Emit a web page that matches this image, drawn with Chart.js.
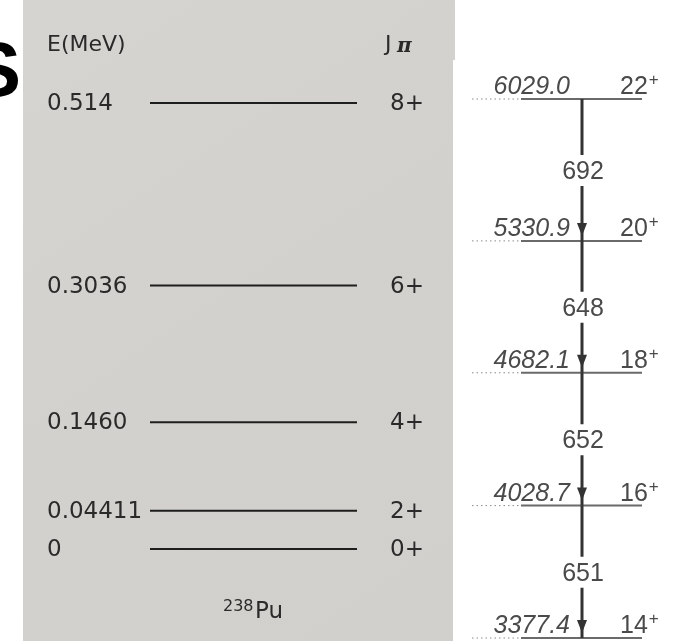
<!DOCTYPE html>
<html>
<head>
<meta charset="utf-8">
<script src="https://cdn.jsdelivr.net/npm/chart.js@4.4.0/dist/chart.umd.min.js"></script>
<style>
  html, body { margin: 0; padding: 0; background: #fff; }
  #wrap { width: 682px; height: 641px; position: relative; }
</style>
</head>
<body>
<div id="wrap"><canvas id="levels"></canvas></div>
<script>
// 238Pu ground band (MeV)
const puEnergies = [0, 0.04411, 0.1460, 0.3036, 0.514];
const puEnergyLabels = ['0', '0.04411', '0.1460', '0.3036', '0.514'];
const puSpins = ['0+', '2+', '4+', '6+', '8+'];

// yrast band (keV)
const bandEnergies = [3377.4, 4028.7, 4682.1, 5330.9, 6029.0];
const bandEnergyLabels = ['3377.4', '4028.7', '4682.1', '5330.9', '6029.0'];
const bandSpins = ['14', '16', '18', '20', '22'];
// gamma between level i+1 and level i
const gammaEnergies = [651, 652, 648, 692];

// 水平位置 (canvas px)
const LEFT_X = [150, 357];
const RIGHT_X = [472, 521, 642];
const ARROW_X = 582;

const datasets = [];
puEnergies.forEach((e, i) => {
    datasets.push({
        label: 'pu' + i,
        yAxisID: 'yL',
        data: [{ x: LEFT_X[0], y: e }, { x: LEFT_X[1], y: e }],
        borderColor: '#1e1e1e',
        borderWidth: 2,
        pointRadius: 0
    });
});
bandEnergies.forEach((e, i) => {
    datasets.push({
        label: 'band' + i,
        yAxisID: 'yR',
        data: RIGHT_X.map(x => ({ x: x, y: e })),
        borderColor: '#666',
        borderWidth: 2,
        pointRadius: 0,
        segment: {
            borderDash: ctx => ctx.p0DataIndex === 0 ? [1.5, 3] : undefined,
            borderWidth: ctx => ctx.p0DataIndex === 0 ? 1 : 2,
            borderColor: ctx => ctx.p0DataIndex === 0 ? '#8a8a8a' : '#6a6a6a'
        }
    });
});

function supText(ctx, base, sup, x, y, supSize, rise) {
    ctx.textAlign = 'left';
    ctx.fillText(base, x, y);
    const w = ctx.measureText(base).width;
    const f = ctx.font;
    ctx.font = f.replace(/\d+px/, supSize + 'px');
    ctx.fillText(sup, x + w + 1, y - rise);
    ctx.font = f;
}

const diagramPlugin = {
    id: 'diagram',
    beforeDraw(chart) {
        const ctx = chart.ctx;
        ctx.save();
        ctx.fillStyle = '#fff';
        ctx.fillRect(0, 0, chart.width, chart.height);
        // 纸张灰底
        const g = ctx.createLinearGradient(23, 0, 455, 641);
        g.addColorStop(0, '#d6d4d1');
        g.addColorStop(0.5, '#d3d1cd');
        g.addColorStop(1, '#d2d0cc');
        ctx.fillStyle = g;
        ctx.fillRect(23, 0, 432, 60);
        ctx.fillRect(23, 60, 430, 581);
        // 邻页的字母
        ctx.fillStyle = '#000';
        ctx.font = 'bold 78px "Liberation Sans"';
        ctx.textAlign = 'right';
        ctx.textBaseline = 'alphabetic';
        ctx.fillText('S', 21, 96);
        ctx.restore();
    },
    afterDatasetsDraw(chart) {
        const ctx = chart.ctx;
        const yL = chart.scales.yL;
        const yR = chart.scales.yR;
        ctx.save();

        // 左侧标签
        ctx.fillStyle = '#2a2a2a';
        ctx.textBaseline = 'middle';
        ctx.textAlign = 'left';
        ctx.font = '22px "DejaVu Sans"';
        ctx.fillText('E(MeV)', 47, 45);
        ctx.font = '22px "DejaVu Sans"';
        ctx.fillText('J', 385, 45);
        ctx.font = 'italic bold 20px "DejaVu Serif"';
        ctx.fillText('\u03C0', 397, 47);
        ctx.font = '23px "DejaVu Sans"';
        puEnergies.forEach((e, i) => {
            const py = yL.getPixelForValue(e);
            ctx.fillText(puEnergyLabels[i], 47, py + 1);
            ctx.fillText(puSpins[i], 390, py + 1);
        });
        ctx.textBaseline = 'alphabetic';
        ctx.font = '16px "DejaVu Sans"';
        ctx.fillText('238', 223, 611);
        ctx.font = '23px "DejaVu Sans"';
        ctx.fillText('Pu', 255, 618);

        // 右侧能级
        ctx.fillStyle = '#4a4a4a';
        bandEnergies.forEach((e, i) => {
            const py = yR.getPixelForValue(e);
            ctx.font = 'italic 25px "Liberation Sans"';
            ctx.textAlign = 'right';
            ctx.textBaseline = 'alphabetic';
            ctx.fillText(bandEnergyLabels[i], 570, py - 5);
            ctx.font = '25px "Liberation Sans"';
            supText(ctx, bandSpins[i], '+', 620, py - 5, 17, 9);
        });

        // γ 跃迁箭头
        ctx.lineWidth = 3;
        gammaEnergies.forEach((eg, i) => {
            const top = yR.getPixelForValue(bandEnergies[i + 1]);
            const bot = yR.getPixelForValue(bandEnergies[i]);
            const mid = (top + bot) / 2;
            ctx.strokeStyle = '#333';
            ctx.fillStyle = '#333';
            ctx.beginPath();
            ctx.moveTo(ARROW_X, top);
            ctx.lineTo(ARROW_X, mid - 15);
            ctx.moveTo(ARROW_X, mid + 16);
            ctx.lineTo(ARROW_X, bot);
            ctx.stroke();
            ctx.beginPath();
            ctx.moveTo(ARROW_X - 5, bot - 18);
            ctx.lineTo(ARROW_X + 5, bot - 18);
            ctx.lineTo(ARROW_X, bot - 5);
            ctx.closePath();
            ctx.fill();
            ctx.fillStyle = '#4a4a4a';
            ctx.font = '25px "Liberation Sans"';
            ctx.textAlign = 'center';
            ctx.textBaseline = 'middle';
            ctx.fillText(String(eg), ARROW_X + 1, mid + 2);
        });
        ctx.restore();
    }
};

// 纵轴范围: 0 MeV -> y=549, 0.514 -> y=103; 6029.0 keV -> y=99, 3377.4 -> y=638
const H = 641;
const pxPerMeV = (549 - 103) / 0.514;
const pxPerKeV = (638 - 99) / (6029.0 - 3377.4);
const yLMax = 0.514 + 103 / pxPerMeV;
const yRMax = 6029.0 + 99 / pxPerKeV;

new Chart(document.getElementById('levels'), {
    type: 'line',
    data: { datasets: datasets },
    options: {
        responsive: true,
        maintainAspectRatio: false,
        animation: false,
        layout: { padding: 0 },
        plugins: { legend: { display: false }, tooltip: { enabled: false } },
        scales: {
            x: { type: 'linear', min: 0, max: 682, display: false },
            yL: { type: 'linear', min: yLMax - H / pxPerMeV, max: yLMax, display: false },
            yR: { type: 'linear', min: yRMax - H / pxPerKeV, max: yRMax, display: false }
        }
    },
    plugins: [diagramPlugin]
});
</script>
</body>
</html>
